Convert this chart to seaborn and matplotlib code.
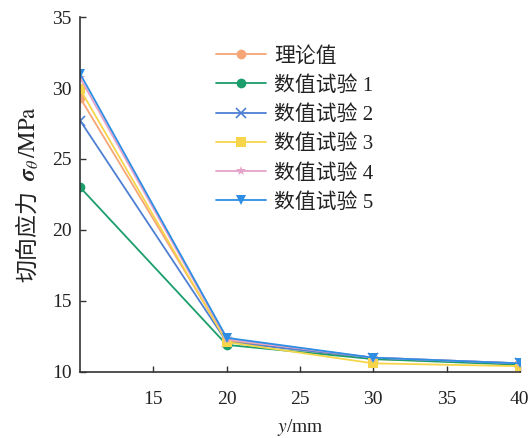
import matplotlib
matplotlib.use("Agg")
import matplotlib.pyplot as plt
import seaborn as sns
import pandas as pd

# distance from the hole edge (mm)
y_mm = [10, 20, 30, 40]

# tangential stress (MPa) for theory and five numerical tests
theory = [29.3, 12.2, 10.9, 10.6]
test1 = [23.0, 11.9, 10.9, 10.5]
test2 = [27.7, 12.1, 11.0, 10.6]
test3 = [29.9, 12.1, 10.6, 10.4]
test4 = [30.7, 12.3, 11.0, 10.6]
test5 = [31.0, 12.4, 11.0, 10.6]

series_names = ["理论值", "数值试验 1", "数值试验 2", "数值试验 3", "数值试验 4", "数值试验 5"]
series_values = [theory, test1, test2, test3, test4, test5]
colors = ["#F6A577", "#1B9E6B", "#4D7FD3", "#F7D54A", "#E6A3CA", "#2D8EE3"]
markers = ["o", "o", "x", "s", "*", "v"]

sns.set_theme(style="ticks")
plt.rcParams["font.family"] = ["Liberation Serif", "Noto Sans CJK SC", "DejaVu Sans"]
plt.rcParams["mathtext.fontset"] = "stix"

mixed = ["Liberation Serif", "Noto Sans CJK SC"]

fig = plt.figure(figsize=(5.31, 4.38), dpi=100)
ax = fig.add_axes([0.151, 0.151, 0.828, 0.810])

for name, vals, c, m in zip(series_names, series_values, colors, markers):
    df = pd.DataFrame({"y": y_mm, "stress": vals})
    sns.lineplot(data=df, x="y", y="stress", ax=ax, color=c, marker=m,
                 markersize=7, markeredgewidth=1.2 if m == "x" else 0,
                 markeredgecolor=c, linewidth=1.3, label=name)

ax.set_xlim(10, 40)
ax.set_ylim(10, 35)
ax.set_xticks([15, 20, 25, 30, 35, 40])
ax.set_yticks([10, 15, 20, 25, 30, 35])
ax.tick_params(direction="in", length=4, width=1, labelsize=14, colors="#333333",
               labelcolor="#222222")
ax.tick_params(axis="x", pad=14)
ax.tick_params(axis="y", pad=6)
for s in ["top", "right"]:
    ax.spines[s].set_visible(False)
for s in ["left", "bottom"]:
    ax.spines[s].set_color("#333333")
    ax.spines[s].set_linewidth(1.2)

ax.set_xlabel("$y$/mm", fontsize=14, color="#222222", labelpad=6)
ax.set_ylabel("切向应力 $\\ \\boldsymbol{\\sigma}_{\\theta}\\,/\\mathrm{MPa}$", fontsize=16.5,
              color="#222222", family=["Noto Sans CJK SC", "Liberation Serif"], labelpad=9)

leg = ax.legend(loc="upper left", bbox_to_anchor=(0.29, 0.94), frameon=False,
                prop={"family": mixed, "size": 15},
                handlelength=2.4, handletextpad=0.4, labelspacing=0.46,
                borderaxespad=0)
for t in leg.get_texts():
    t.set_color("#222222")

fig.savefig("out.png", dpi=100, facecolor="white")
